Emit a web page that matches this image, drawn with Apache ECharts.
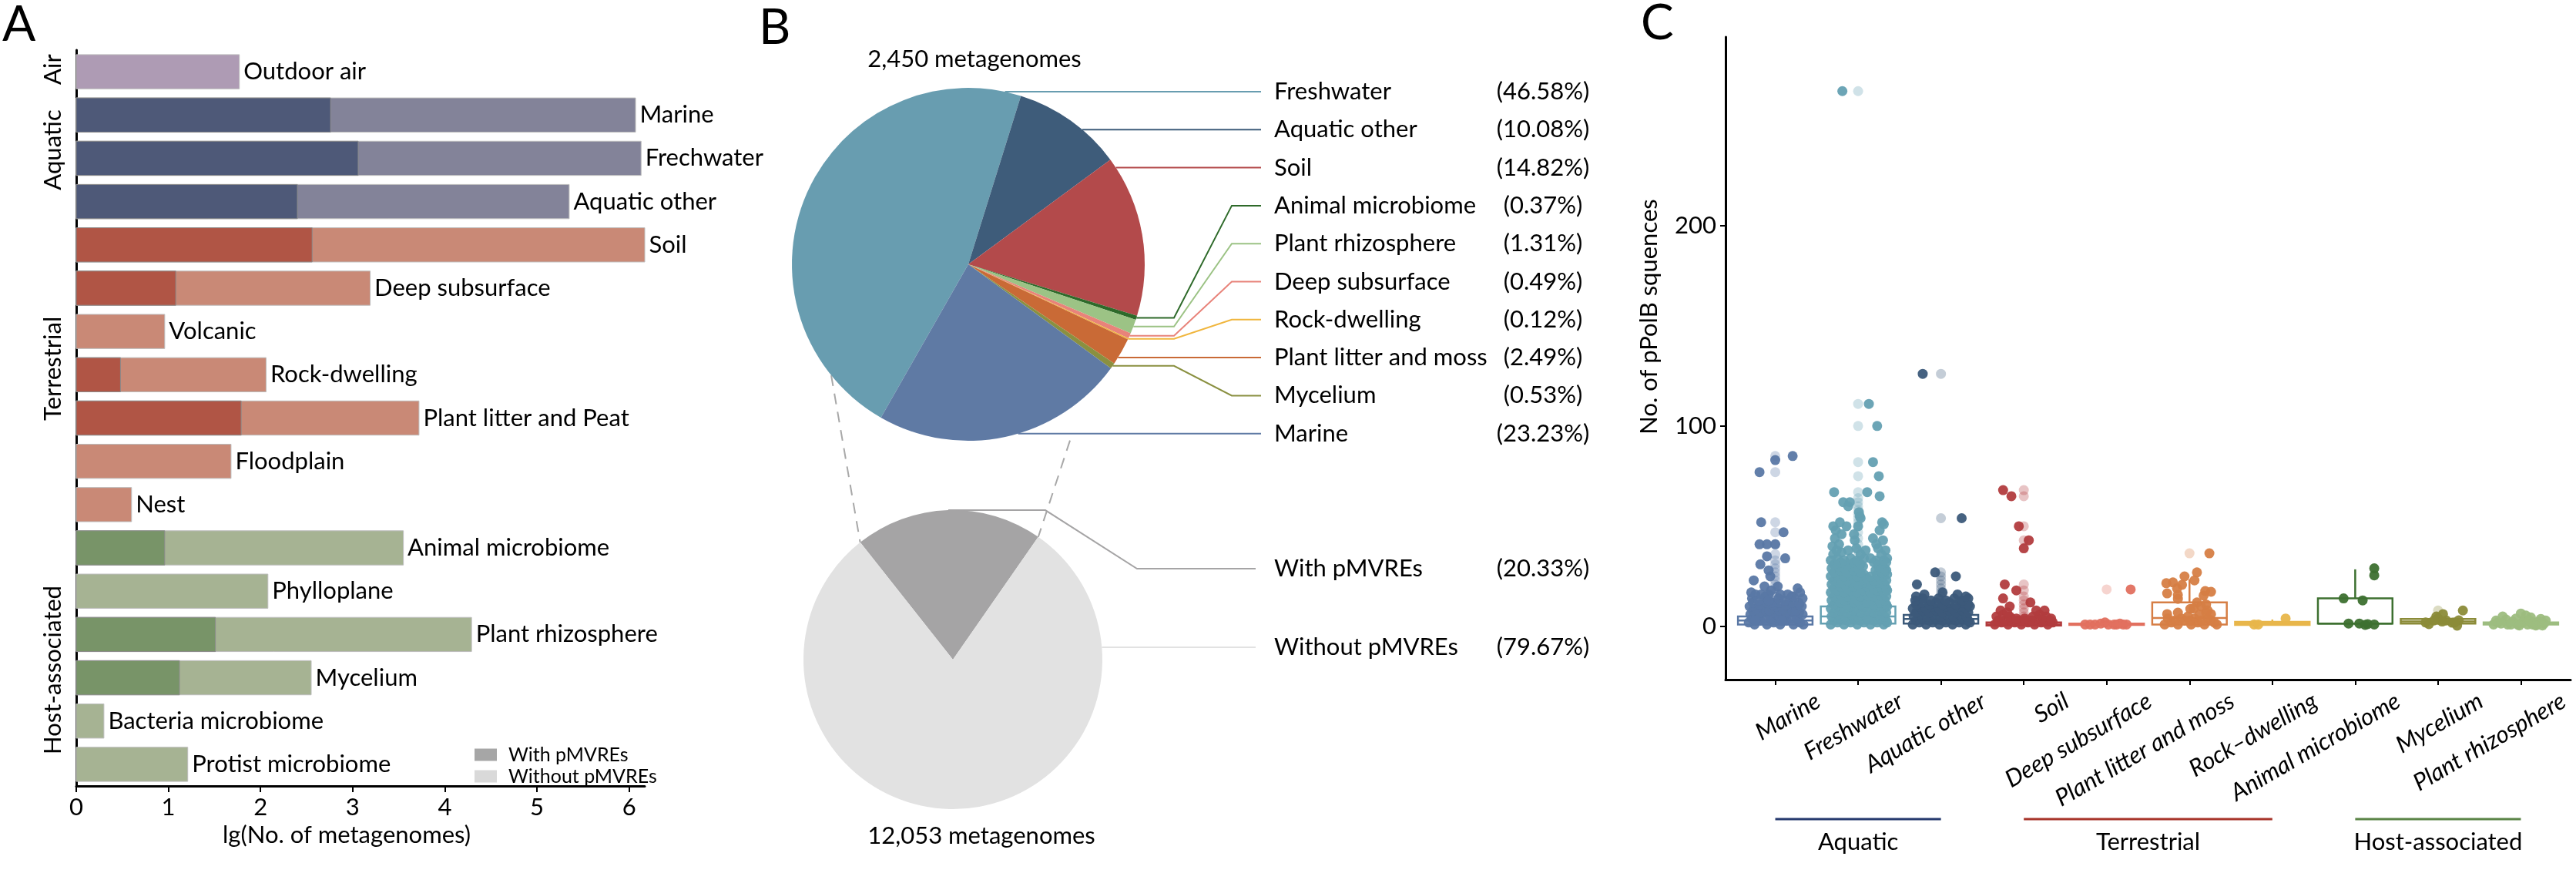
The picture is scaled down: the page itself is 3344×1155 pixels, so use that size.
<!DOCTYPE html>
<html><head><meta charset="utf-8">
<script src="https://cdn.jsdelivr.net/npm/echarts@6/dist/echarts.min.js"></script>
<style>html,body{margin:0;padding:0;background:#fff}#c{width:3344px;height:1155px}</style>
</head><body><div id="c"></div>
<script>
const FONT = 'Lato, "Open Sans", sans-serif';
const FS = 31;

// ---------- Panel A ----------
const habitatsA = ['Outdoor air','Marine','Frechwater','Aquatic other','Soil','Deep subsurface','Volcanic','Rock-dwelling','Plant litter and Peat','Floodplain','Nest','Animal microbiome','Phylloplane','Plant rhizosphere','Mycelium','Bacteria microbiome','Protist microbiome'];
const groupOfA = ['Air','Aquatic','Aquatic','Aquatic','Terrestrial','Terrestrial','Terrestrial','Terrestrial','Terrestrial','Terrestrial','Terrestrial','Host-associated','Host-associated','Host-associated','Host-associated','Host-associated','Host-associated'];
const lgTotal = [1.77, 6.07, 6.13, 5.35, 6.17, 3.19, 0.96, 2.06, 3.72, 1.68, 0.60, 3.55, 2.08, 4.29, 2.55, 0.30, 1.21];
const lgWith  = [null, 2.76, 3.06, 2.40, 2.56, 1.08, null, 0.48, 1.79, null, null, 0.96, null, 1.51, 1.12, null, null];
const groupsA = ['Air','Aquatic','Terrestrial','Host-associated'];
const xTicksA = [0,1,2,3,4,5,6];
const lightColA = {'Air':'#ae9bb4','Aquatic':'#838399','Terrestrial':'#c98976','Host-associated':'#a6b393'};
const darkColA  = {'Air':'#8a7595','Aquatic':'#4e5978','Terrestrial':'#b05545','Host-associated':'#789468'};

// ---------- Panel B ----------
const pieNames = ['Freshwater','Aquatic other','Soil','Animal microbiome','Plant rhizosphere','Deep subsurface','Rock-dwelling','Plant litter and moss','Mycelium','Marine'];
const piePct   = [46.58, 10.08, 14.82, 0.37, 1.31, 0.49, 0.12, 2.49, 0.53, 23.23];
const pieCols  = ['#689db0','#3e5c7a','#b34a4b','#2e6a2a','#9cc385','#e8837a','#f0b63e','#c96a36','#8a9040','#5f7aa4'];
const pie2Names = ['With pMVREs','Without pMVREs'];
const pie2Pct   = [20.33, 79.67];
const pie2Cols  = ['#a5a4a5','#e2e2e2'];
const pieTopText = '2,450 metagenomes';
const pieBotText = '12,053 metagenomes';

// ---------- Panel C ----------
const catC = ['Marine','Freshwater','Aquatic other','Soil','Deep subsurface','Plant litter and moss','Rock\u2013dwelling','Animal microbiome','Mycelium','Plant rhizosphere'];
const catColC = ['#5a78a5','#64a0b2','#3c5a7a','#b23c3e','#e2705f','#d67e45','#e8b64a','#3d7030','#8b8b38','#9dbd80'];
const boxLow  = [1, 1, 1, 0.5, 0.5, 0.5, 0.5, 1, 1, 0.5];
const boxQ1   = [1, 1.5, 1.5, 0.5, 0.8, 1, 0.8, 1.5, 1.5, 1];
const boxMed  = [3, 5, 3.8, 1, 1, 4.2, 1.5, 1.5, 2.5, 1.5];
const boxQ3   = [5, 10, 5.8, 2, 1.5, 12, 2.3, 14, 3.8, 2];
const boxHigh = [11, 22, 12, 4, 2, 23.5, 3.5, 28.5, 7, 4];
const yTicksC = [0, 100, 200];
const groupsC = [['Aquatic',0,2,'#263a6e'],['Terrestrial',3,6,'#a8352b'],['Host-associated',7,9,'#5b8447']];

const jitMarine = [[0.21,85],[0,83],[-0.19,77],[-0.17,52],[0.10,47],[-0.19,41],[-0.10,41],[0,41],[-0.10,35],[0.12,34],[-0.18,31],[-0.08,28],[-0.06,25],[-0.26,23],[-0.13,20],[0.03,20],[0.27,19],
[-0.32,2],[-0.25,1],[-0.18,3],[-0.10,1],[-0.02,2],[0.06,1],[0.14,3],[0.22,1],[0.30,2],[0.34,1],
[-0.28,4],[-0.20,3],[-0.12,4],[-0.04,3],[0.04,4],[0.12,3],[0.20,4],[0.28,3],
[-0.30,6],[-0.22,5],[-0.14,7],[-0.06,4],[0.02,6],[0.10,5],[0.18,7],[0.26,4],[0.33,6],
[-0.27,8],[-0.19,7],[-0.11,8],[-0.03,7],[0.05,8],[0.13,7],[0.21,8],[0.29,7],
[-0.31,10],[-0.23,9],[-0.15,11],[-0.07,8],[0.01,10],[0.09,9],[0.17,11],[0.25,8],[0.32,10],
[-0.27,12],[-0.19,11],[-0.11,12],[-0.03,11],[0.05,12],[0.13,11],[0.21,12],[0.29,11],
[-0.28,14],[-0.20,13],[-0.12,15],[-0.04,12],[0.04,14],[0.12,13],[0.20,15],[0.28,12],[0.33,14],
[-0.24,16],[-0.08,16],[0.06,16],[0.22,15],
[-0.29,17],[-0.17,16],[-0.05,18],[0.15,16],[0.30,17],[-0.24,3],[0.08,3],[-0.08,13]];
const jitFresh = [[-0.19,267],[0.13,111],[0.23,100],[0.18,82],[0.25,75],[-0.29,67],[0.11,67],[0.26,65],[-0.18,62],[-0.10,62],[-0.12,60],[0.02,55],[0.29,52],[-0.14,50],[-0.27,48],[0.18,44],[-0.04,43],
[-0.31,40],[-0.23,41],[-0.28,44],[-0.20,46],[-0.30,50],[-0.22,52],[-0.05,46],[0.00,50],[0.03,54],[0.01,57],[0.22,41],[0.30,43],[0.26,48],[0.31,51],[0.33,38],[0.09,38],[-0.12,38],
[-0.33,1],[-0.25,2],[-0.17,1],[-0.09,2],[-0.01,1],[0.07,2],[0.15,1],[0.23,2],[0.31,1],[0.35,2],
[-0.29,3],[-0.21,4],[-0.13,3],[-0.05,4],[0.03,3],[0.11,4],[0.19,3],[0.27,4],[0.34,3],
[-0.32,5],[-0.24,6],[-0.16,5],[-0.08,6],[0.00,5],[0.08,6],[0.16,5],[0.24,6],[0.32,5],
[-0.29,7],[-0.21,8],[-0.13,7],[-0.05,8],[0.03,7],[0.11,8],[0.19,7],[0.27,8],[0.34,7],
[-0.33,9],[-0.25,10],[-0.17,9],[-0.09,10],[-0.01,9],[0.07,10],[0.15,9],[0.23,10],[0.31,9],[0.35,10],
[-0.29,11],[-0.21,12],[-0.13,11],[-0.05,12],[0.03,11],[0.11,12],[0.19,11],[0.27,12],[0.34,11],
[-0.32,13],[-0.24,14],[-0.16,13],[-0.08,14],[0.00,13],[0.08,14],[0.16,13],[0.24,14],[0.32,13],
[-0.29,15],[-0.21,16],[-0.13,15],[-0.05,16],[0.03,15],[0.11,16],[0.19,15],[0.27,16],[0.34,15],
[-0.33,17],[-0.25,18],[-0.17,17],[-0.09,18],[-0.01,17],[0.07,18],[0.15,17],[0.23,18],[0.31,17],[0.35,18],
[-0.29,19],[-0.21,20],[-0.13,19],[-0.05,20],[0.03,19],[0.11,20],[0.19,19],[0.27,20],[0.34,19],
[-0.32,21],[-0.24,22],[-0.16,21],[-0.08,22],[0.00,21],[0.08,22],[0.16,21],[0.24,22],[0.32,21],
[-0.29,23],[-0.21,24],[-0.13,23],[-0.05,24],[0.03,23],[0.11,24],[0.19,23],[0.27,24],[0.34,23],
[-0.33,25],[-0.25,26],[-0.17,25],[-0.09,26],[-0.01,25],[0.07,26],[0.15,25],[0.23,26],[0.31,25],[0.35,26],
[-0.29,27],[-0.21,28],[-0.13,27],[-0.05,28],[0.03,27],[0.21,28],[0.29,27],[0.34,28],
[-0.32,29],[-0.24,30],[-0.16,29],[-0.08,30],[0.00,29],[0.06,30],[0.24,30],[0.32,29],
[-0.29,31],[-0.21,32],[-0.13,31],[-0.05,32],[0.03,31],[0.19,32],[0.27,31],[0.34,32],
[-0.33,33],[-0.25,34],[-0.17,33],[-0.09,34],[-0.01,33],[0.07,34],[0.22,33],[0.31,33],[0.35,34],
[-0.30,36],[-0.20,37],[0.03,36],[0.15,34],[0.28,36],[-0.26,38],[-0.02,39],[0.24,39]];
const jitAqOther = [[-0.22,126],[0.25,54],[-0.07,27],[0.18,25],[-0.29,21],
[-0.34,1],[-0.26,2],[-0.18,1],[-0.10,2],[-0.02,1],[0.06,2],[0.14,1],[0.22,2],[0.30,1],[0.35,2],
[-0.30,3],[-0.22,4],[-0.14,3],[-0.06,4],[0.02,3],[0.10,4],[0.18,3],[0.26,4],[0.33,3],
[-0.33,5],[-0.25,6],[-0.17,5],[-0.09,6],[-0.01,5],[0.07,6],[0.15,5],[0.23,6],[0.31,5],
[-0.30,7],[-0.22,8],[-0.14,7],[-0.06,8],[0.02,7],[0.10,8],[0.18,7],[0.26,8],[0.33,7],
[-0.34,9],[-0.26,10],[-0.18,9],[-0.10,10],[-0.02,9],[0.06,10],[0.14,9],[0.22,10],[0.30,9],[0.35,10],
[-0.30,11],[-0.22,12],[-0.14,11],[-0.06,12],[0.02,11],[0.10,12],[0.18,11],[0.26,12],[0.33,11],
[-0.31,13],[-0.22,14],[-0.12,13],[-0.03,14],[0.06,13],[0.16,14],[0.26,13],[0.33,14],
[-0.20,16],[0.02,17],[0.20,16],[-0.30,15],[0.30,15]];
const jitSoil = [[-0.25,68],[-0.15,65],[-0.06,50],[0.06,43],[0,39],[-0.23,21],[-0.09,18],[0.08,12],[-0.25,14],[-0.17,10],
[-0.35,1],[-0.27,2],[-0.19,1],[-0.11,2],[-0.03,1],[0.05,2],[0.13,1],[0.21,2],[0.29,1],[0.35,2],
[-0.31,3],[-0.23,3],[-0.15,4],[-0.07,3],[0.01,3],[0.09,3],[0.17,4],[0.25,3],[0.32,3],
[-0.33,5],[-0.25,6],[-0.17,5],[-0.09,4],[0.01,4],[0.11,5],[0.19,6],[0.27,5],[0.33,4],
[-0.28,8],[-0.20,7],[0.15,8],[0.25,8]];
const jitDeep = [[0.29,18.5],[-0.26,1],[-0.20,1],[-0.14,1],[-0.07,1.5],[-0.02,2],[0.02,1],[0.09,1],[0.12,1],[0.16,1.5],[0.20,1],[0.24,1]];
const jitLitter = [[0.24,36.5],[0.09,27],[-0.06,25],[0.06,23],[-0.28,21.6],[-0.20,22],[-0.09,20.8],[-0.15,19],[-0.27,16.5],[-0.14,15.8],[-0.14,13.8],[0.19,17.7],[0.26,17.3],[0.17,15.4],[0.09,12],[0.14,10],[0.01,8.8],[-0.27,6.2],[-0.14,6.9],[0.20,6.9],[0.26,6.2],
[-0.30,1],[-0.22,2],[-0.14,1],[-0.06,3],[0.02,1],[0.10,2],[0.18,1],[0.26,3],[0.33,1],[-0.26,4],[-0.10,4],[0.06,4],[0.22,4],[0.30,2],[-0.18,3],[0.14,3],[0.00,3],[-0.02,5],[0.12,6],[0.05,9],[0.20,11],[0.22,8]];
const jitRock = [[-0.22,1],[-0.17,1],[0.16,4]];
const jitAnimal = [[-0.14,14],[0.09,13],[0.23,29],[0.23,25.5],[-0.08,1.5],[0.05,1.5],[0.12,0.8],[0.15,1.2],[0.23,1]];
const jitMycel = [[-0.11,1.2],[-0.02,5],[0.06,6.2],[0.0,4],[0.17,1.9],[0.25,3.1],[0.23,0.4],[0.30,8],[-0.15,2],[0.10,3],[0.05,2.5],[-0.05,3],[0.20,2]];
const jitRhizo = [[-0.33,1],[-0.28,2],[-0.22,5],[-0.16,1],[-0.10,2.5],[-0.04,1],[0.00,6.5],[0.04,3],[0.08,1],[0.12,4.5],[0.16,2],[0.20,1],[0.24,3.8],[0.28,1.5],[0.30,3],[-0.30,3],[-0.18,3.5],[-0.06,4],[0.06,5.5],[0.14,1],[0.22,2.5],[-0.12,1],[0.02,2],[0.10,3],[-0.24,1.5],[0.18,0.5],[-0.02,0.5],[0.26,0.5]];
const jitterC = [jitMarine, jitFresh, jitAqOther, jitSoil, jitDeep, jitLitter, jitRock, jitAnimal, jitMycel, jitRhizo];
const outliersC = [
  [85,77,52,47,41,36,33,31,29,27,25,23,21,19,17,15,13,12],
  [267,111,100,82,75,67,64,62,60,58,56,54,52,50,47,44,41,38,35,32,29,26,24],
  [126,54,27,25,23,21,19,17,15,13],
  [68,65,50,43,21,18,15,13,11,9,7,5],
  [18.5], [36.5], [], [], [8], []
];

// ---------- build ----------
const chart = echarts.init(document.getElementById('c'), null, {width:3344, height:1155});

const barLight = lgTotal.map((v,i)=>({value:v, itemStyle:{color: lightColA[groupOfA[i]]}}));
const barDark = lgWith.map((v,i)=>({value: v==null?'-':v, itemStyle:{color: darkColA[groupOfA[i]]}}));

const jitterData = [];
jitterC.forEach((arr,i)=>arr.forEach(p=>jitterData.push([i+p[0], p[1], i])));
const outData = [];
outliersC.forEach((arr,i)=>arr.forEach(v=>outData.push([i, v, i])));
const boxData = catC.map((c,i)=>[i, boxLow[i], boxQ1[i], boxMed[i], boxQ3[i], boxHigh[i]]);

function pieGeo(cfg){
  const total = cfg.values.reduce((a,b)=>a+b,0);
  return function(params){
    const i = params.dataIndex;
    let a0 = cfg.startUp;
    for (let k=0;k<i;k++) a0 += cfg.values[k]/total*360;
    const a1 = a0 + cfg.values[i]/total*360;
    const y = cfg.rowY[i];
    const dy = y - cfg.cy;
    let pts;
    if (Math.abs(dy) < cfg.r) {
      const dx = Math.sqrt(cfg.r*cfg.r - dy*dy);
      let t = Math.atan2(dx, -dy)*180/Math.PI;
      while (t < a0) t += 360;
      if (t <= a1) pts = [[cfg.cx+dx, y],[(cfg.cx+dx+cfg.endX)/2, y],[cfg.endX, y]];
    }
    if (!pts) {
      const am = (a0+a1)/2*Math.PI/180;
      const sx = cfg.cx + cfg.r*Math.sin(am), sy = cfg.cy - cfg.r*Math.cos(am);
      pts = [[sx, sy],[cfg.k1, sy],[cfg.k2, y],[cfg.endX, y]];
    }
    return {x: cfg.textX, y: y, align:'left', verticalAlign:'middle', labelLinePoints: pts};
  };
}
const topRows = pieNames.map((n,i)=>119 + 49.3*i);
const topCfg = {cx:1257, cy:343, r:229, startUp:209.7, values:piePct, rowY: topRows, k1:1524, k2:1599, endX:1637, textX:1654};
const botCfg = {cx:1237, cy:856, r:194, startUp:321.65, values:pie2Pct, rowY:[738, 840], k1:1357, k2:1476, endX:1630, textX:1654};

const pieLabel = {
  show:true, position:'outside', color:'#000',
  formatter: p => `{n|${p.name}}{p|(${p.value.toFixed(2)}%)}`,
  rich: {n:{width:289, fontSize:FS, fontFamily:FONT, color:'#000'}, p:{width:120, align:'center', fontSize:FS, fontFamily:FONT, color:'#000'}}
};

const option = {
  animation:false,
  textStyle:{fontFamily:FONT},
  grid:[
    {left:99, top:65, width:738, height:955},
    {left:2240, top:48, width:1097, height:834}
  ],
  xAxis:[
    {gridIndex:0, type:'value', min:0, max:6.17, splitLine:{show:false},
     axisLine:{show:true, onZero:false, lineStyle:{color:'#000', width:3}},
     axisTick:{show:true, length:8, lineStyle:{color:'#000', width:2}, customValues:xTicksA},
     axisLabel:{fontSize:FS, color:'#000', margin:12, fontFamily:FONT, customValues:xTicksA},
     name:'lg(No. of metagenomes)', nameLocation:'middle', nameGap:48,
     nameTextStyle:{fontSize:FS, color:'#000', fontFamily:FONT, padding:[0,36,0,0]}},
    {gridIndex:1, type:'value', min:-0.6, max:9.6, splitLine:{show:false},
     axisLine:{show:true, onZero:false, lineStyle:{color:'#000', width:3}},
     axisTick:{show:true, length:7, lineStyle:{color:'#000', width:2}, customValues:[0,1,2,3,4,5,6,7,8,9]},
     axisLabel:{show:false}}
  ],
  yAxis:[
    {gridIndex:0, type:'category', data:habitatsA, inverse:true,
     axisLine:{show:true, onZero:false, lineStyle:{color:'#000', width:3}}, axisTick:{show:false}, axisLabel:{show:false}},
    {gridIndex:1, type:'value', min:-26.5, max:294, splitLine:{show:false},
     axisLine:{show:true, onZero:false, lineStyle:{color:'#000', width:3}},
     axisTick:{show:true, length:7, lineStyle:{color:'#000', width:2}, customValues:yTicksC},
     axisLabel:{fontSize:FS, color:'#000', margin:12, fontFamily:FONT, customValues:yTicksC}}
  ],
  legend:{
    left:611, top:962, orient:'vertical', itemWidth:29, itemHeight:16, itemGap:3, icon:'rect',
    selectedMode:false, data:['With pMVREs','Without pMVREs'],
    textStyle:{fontSize:25, lineHeight:21, fontFamily:FONT, color:'#000', padding:[0,0,0,10]}
  },
  series:[
    {name:'Without pMVREs', type:'bar', xAxisIndex:0, yAxisIndex:0, data:barLight,
     barCategoryGap:'21%', barGap:'-100%', itemStyle:{color:'#d9d9d9', borderColor:'#bdbdbd'},
     label:{show:true, position:'right', distance:5, color:'#000', fontSize:FS, fontFamily:FONT,
            formatter: p => habitatsA[p.dataIndex]}},
    {name:'With pMVREs', type:'bar', xAxisIndex:0, yAxisIndex:0, data:barDark,
     barCategoryGap:'21%', barGap:'-100%', itemStyle:{color:'#a6a6a6', borderColor:'#8c8c8c'}},
    {type:'pie', center:[topCfg.cx, topCfg.cy], radius:topCfg.r, startAngle:90-topCfg.startUp+360, clockwise:true,
     avoidLabelOverlap:false, silent:true,
     data: pieNames.map((n,i)=>({name:n, value:piePct[i], itemStyle:{color:pieCols[i]}})),
     label:pieLabel, labelLine:{show:true, lineStyle:{width:2}}, labelLayout: pieGeo(topCfg)},
    {type:'pie', center:[botCfg.cx, botCfg.cy], radius:botCfg.r, startAngle:90-botCfg.startUp+360, clockwise:true,
     avoidLabelOverlap:false, silent:true,
     data: pie2Names.map((n,i)=>({name:n, value:pie2Pct[i], itemStyle:{color:pie2Cols[i]}})),
     label:pieLabel, labelLine:{show:true, lineStyle:{width:2}}, labelLayout: pieGeo(botCfg)},
    {type:'custom', xAxisIndex:1, yAxisIndex:1, data:boxData, z:2, silent:true,
     encode:{x:0, y:[1,2,3,4,5]},
     renderItem:function(params, api){
       const i = api.value(0);
       const col = catColC[i];
       const w = api.size([0.9, 0])[0];
       const pL = api.coord([i, api.value(1)]), p1 = api.coord([i, api.value(2)]),
             pM = api.coord([i, api.value(3)]), p3 = api.coord([i, api.value(4)]), pH = api.coord([i, api.value(5)]);
       const x0 = p1[0] - w/2;
       const st = {stroke:col, lineWidth:2.5};
       return {type:'group', children:[
         {type:'line', shape:{x1:p1[0], y1:p3[1], x2:p1[0], y2:pH[1]}, style:st},
         {type:'line', shape:{x1:p1[0], y1:p1[1], x2:p1[0], y2:pL[1]}, style:st},
         {type:'rect', shape:{x:x0, y:p3[1], width:w, height:Math.max(p1[1]-p3[1],1)}, style:{stroke:col, lineWidth:2.5, fill:'#fff'}},
         {type:'line', shape:{x1:x0, y1:pM[1], x2:x0+w, y2:pM[1]}, style:st}
       ]};
     }},
    {type:'scatter', xAxisIndex:1, yAxisIndex:1, data:outData, z:3, symbolSize:13, silent:true,
     itemStyle:{color: p => catColC[p.data[2]], opacity:0.3}},
    {type:'scatter', xAxisIndex:1, yAxisIndex:1, data:jitterData, z:4, symbolSize:13, silent:true,
     itemStyle:{color: p => catColC[p.data[2]], opacity:0.95}}
  ]
};
chart.setOption(option);

// ---------- annotations (positions from library scales) ----------
const g = [];
const letter = (t,x,y)=>({type:'text', x:x, y:y, style:{text:t, fontSize:64, fontFamily:FONT, fill:'#000', align:'left', verticalAlign:'top'}});
g.push(letter('A',3,0), letter('B',985,4), letter('C',2130,-2));

const grpOffset = {'Air':-3,'Aquatic':-11,'Terrestrial':-8,'Host-associated':18};
groupsA.forEach(gn=>{
  const idx = groupOfA.map((v,i)=>v===gn?i:-1).filter(i=>i>=0);
  const yA = chart.convertToPixel({xAxisIndex:0, yAxisIndex:0}, [0, idx[0]])[1];
  const yB = chart.convertToPixel({xAxisIndex:0, yAxisIndex:0}, [0, idx[idx.length-1]])[1];
  g.push({type:'text', x:69, y:(yA+yB)/2 + grpOffset[gn], rotation:Math.PI/2,
          style:{text:gn, fontSize:FS, fontFamily:FONT, fill:'#000', align:'center', verticalAlign:'middle'}});
});

g.push({type:'text', x:1265, y:77, style:{text:pieTopText, fontSize:FS, fontFamily:FONT, fill:'#000', align:'center', verticalAlign:'middle'}});
g.push({type:'text', x:1274, y:1085, style:{text:pieBotText, fontSize:FS, fontFamily:FONT, fill:'#000', align:'center', verticalAlign:'middle'}});
const polar = (c, ang, rr) => [c.cx + rr*Math.sin(ang*Math.PI/180), c.cy - rr*Math.cos(ang*Math.PI/180)];
const withA0 = botCfg.startUp, withA1 = botCfg.startUp + pie2Pct[0]/100*360;
const tl = polar(topCfg, 231, topCfg.r), tr = polar(topCfg, 150, topCfg.r + 35);
const bl = polar(botCfg, withA0, botCfg.r), br = polar(botCfg, withA1, botCfg.r);
[[tl,bl],[tr,br]].forEach(([a,b])=>g.push({type:'line', shape:{x1:a[0], y1:a[1], x2:b[0], y2:b[1]},
  style:{stroke:'#a8a8a8', lineWidth:2, lineDash:[14,10]}}));

g.push({type:'text', x:2141, y:411, rotation:Math.PI/2,
        style:{text:'No. of pPolB squences', fontSize:FS, fontFamily:FONT, fill:'#000', align:'center', verticalAlign:'middle'}});
const axisY = chart.convertToPixel({xAxisIndex:1, yAxisIndex:1}, [0, -26.5])[1];
catC.forEach((c,i)=>{
  const px = chart.convertToPixel({xAxisIndex:1, yAxisIndex:1}, [i, 0])[0];
  g.push({type:'text', x:px+48, y:axisY+12, rotation:Math.PI/6,
          style:{text:c, fontSize:FS, fontStyle:'italic', fontFamily:FONT, fill:'#000', align:'right', verticalAlign:'top'}});
});
groupsC.forEach(([name,a,b,col])=>{
  const xa = chart.convertToPixel({xAxisIndex:1, yAxisIndex:1}, [a, 0])[0];
  const xb = chart.convertToPixel({xAxisIndex:1, yAxisIndex:1}, [b, 0])[0];
  g.push({type:'line', shape:{x1:xa, y1:1063, x2:xb, y2:1063}, style:{stroke:col, lineWidth:3}});
  g.push({type:'text', x:(xa+xb)/2, y:1093, style:{text:name, fontSize:FS, fontFamily:FONT, fill:'#000', align:'center', verticalAlign:'middle'}});
});
chart.setOption({graphic:{elements:g}});
</script></body></html>
